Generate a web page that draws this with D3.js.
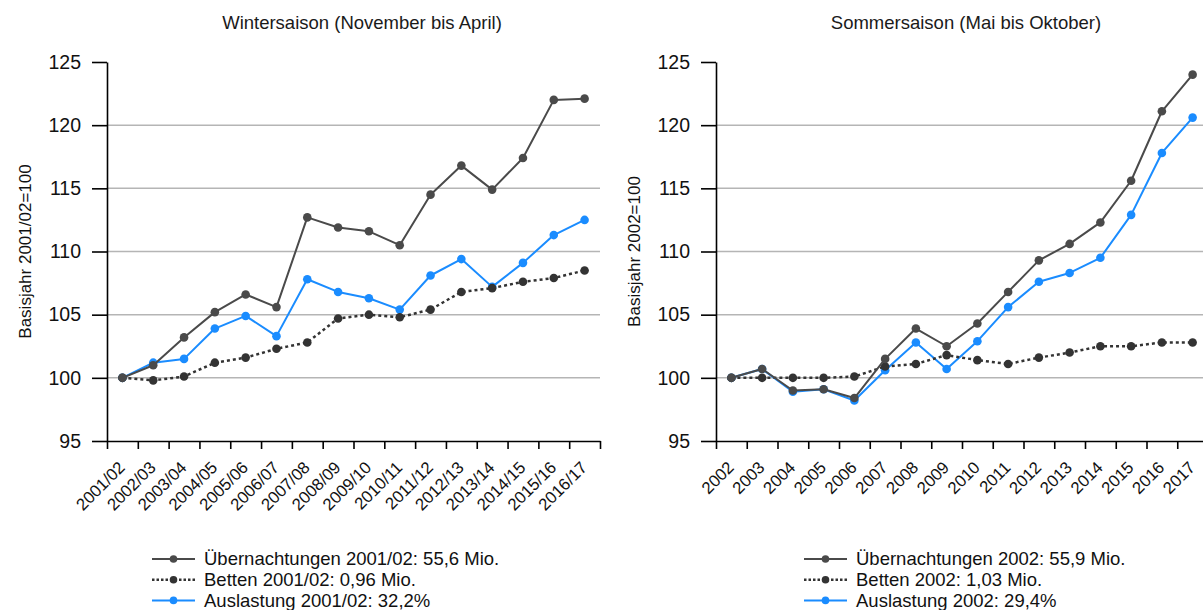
<!DOCTYPE html>
<html>
<head>
<meta charset="utf-8">
<script src="https://cdn.jsdelivr.net/npm/d3@7"></script>
<style>
  html, body { margin: 0; padding: 0; background: #fff; }
  svg { display: block; font-family: "Liberation Sans", Arial, sans-serif; }
</style>
</head>
<body>
<svg id="chart" width="1203" height="610"></svg>
<script>
// ---------- data ----------
const winterCategories = ["2001/02","2002/03","2003/04","2004/05","2005/06","2006/07","2007/08","2008/09",
  "2009/10","2010/11","2011/12","2012/13","2013/14","2014/15","2015/16","2016/17"];
const winterUebernachtungen = [100, 101.0, 103.2, 105.2, 106.6, 105.6, 112.7, 111.9, 111.6, 110.5, 114.5, 116.8, 114.9, 117.4, 122.0, 122.1];
const winterBetten          = [100, 99.8, 100.1, 101.2, 101.6, 102.3, 102.8, 104.7, 105.0, 104.8, 105.4, 106.8, 107.1, 107.6, 107.9, 108.5];
const winterAuslastung      = [100, 101.2, 101.5, 103.9, 104.9, 103.3, 107.8, 106.8, 106.3, 105.4, 108.1, 109.4, 107.2, 109.1, 111.3, 112.5];

const sommerCategories = ["2002","2003","2004","2005","2006","2007","2008","2009",
  "2010","2011","2012","2013","2014","2015","2016","2017"];
const sommerUebernachtungen = [100, 100.7, 99.0, 99.1, 98.4, 101.5, 103.9, 102.5, 104.3, 106.8, 109.3, 110.6, 112.3, 115.6, 121.1, 124.0];
const sommerBetten          = [100, 100.0, 100.0, 100.0, 100.1, 100.9, 101.1, 101.8, 101.4, 101.1, 101.6, 102.0, 102.5, 102.5, 102.8, 102.8];
const sommerAuslastung      = [100, 100.7, 98.9, 99.1, 98.2, 100.6, 102.8, 100.7, 102.9, 105.6, 107.6, 108.3, 109.5, 112.9, 117.8, 120.6];

const yTicks = [95, 100, 105, 110, 115, 120, 125];
const gridTicks = [100, 105, 110, 115, 120];

const winterTitle = "Wintersaison (November bis April)";
const sommerTitle = "Sommersaison (Mai bis Oktober)";
const winterYLabel = "Basisjahr 2001/02=100";
const sommerYLabel = "Basisjahr 2002=100";
const winterLegend = ["Übernachtungen 2001/02: 55,6 Mio.", "Betten 2001/02: 0,96 Mio.", "Auslastung 2001/02: 32,2%"];
const sommerLegend = ["Übernachtungen 2002: 55,9 Mio.", "Betten 2002: 1,03 Mio.", "Auslastung 2002: 29,4%"];

// ---------- styles ----------
const styles = {
  ueber:  { stroke: "#4a4a4a", fill: "#4a4a4a", dash: null, width: 2 },
  betten: { stroke: "#333333", fill: "#333333", dash: "3,3", width: 2.5 },
  ausl:   { stroke: "#1a8cff", fill: "#1a8cff", dash: null, width: 2 }
};

const svg = d3.select("#chart");

function drawPanel(cfg) {
  const g = svg.append("g");
  const x = d3.scaleBand().domain(cfg.categories).range([cfg.left, cfg.left + cfg.width]).padding(0);
  const xi = d3.scaleLinear().domain([0, cfg.categories.length]).range([cfg.left, cfg.left + cfg.width]);
  const y = d3.scaleLinear().domain([95, 125]).range([441, 62]);

  // title
  g.append("text").attr("x", cfg.titleX).attr("y", 29)
    .attr("text-anchor", "middle").attr("font-size", 18.5).attr("fill", "#1a1a1a")
    .text(cfg.title);

  // gridlines
  g.selectAll(".grid").data(gridTicks).enter().append("line")
    .attr("x1", cfg.left).attr("x2", cfg.left + cfg.width)
    .attr("y1", d => y(d)).attr("y2", d => y(d))
    .attr("stroke", "#b5b5b5").attr("stroke-width", 1.5);

  // y axis
  const yAxis = d3.axisLeft(y).tickValues(yTicks).tickSize(15).tickSizeOuter(0).tickPadding(11);
  const ya = g.append("g").attr("transform", `translate(${cfg.left},0)`).call(yAxis);
  ya.select(".domain").attr("stroke", "#000").attr("stroke-width", 1.6);
  ya.selectAll(".tick line").attr("stroke", "#000").attr("stroke-width", 1.6);
  ya.selectAll(".tick text").attr("font-size", 19.5).attr("font-family", "Liberation Sans, Arial, sans-serif").attr("fill", "#111");

  // x axis (ticks at band boundaries)
  const xAxis = d3.axisBottom(xi).tickValues(d3.range(0, cfg.categories.length + 1)).tickSize(8).tickSizeOuter(0).tickFormat("");
  const xa = g.append("g").attr("transform", `translate(0,${y(95)})`).call(xAxis);
  xa.select(".domain").attr("stroke", "#000").attr("stroke-width", 1.6);
  xa.selectAll(".tick line").attr("stroke", "#000").attr("stroke-width", 1.6);

  // x labels
  g.selectAll(".xl").data(cfg.categories).enter().append("text")
    .attr("transform", d => `translate(${x(d) + x.bandwidth() / 2 - 5},${y(95) + 19}) rotate(-45)`)
    .attr("text-anchor", "end").attr("dy", "0.72em").attr("font-size", 16.8).attr("fill", "#111")
    .text(d => d);

  // y axis title
  g.append("text")
    .attr("transform", `translate(${cfg.yTitleX},${(y(95) + y(125)) / 2}) rotate(-90)`)
    .attr("text-anchor", "middle").attr("font-size", 17).attr("fill", "#111")
    .text(cfg.yLabel);

  // series
  const series = [
    { vals: cfg.ausl, st: styles.ausl },
    { vals: cfg.betten, st: styles.betten },
    { vals: cfg.ueber, st: styles.ueber }
  ];
  const line = d3.line().x((d, i) => x(cfg.categories[i]) + x.bandwidth() / 2).y(d => y(d));
  series.forEach(s => {
    g.append("path").datum(s.vals).attr("d", line)
      .attr("fill", "none").attr("stroke", s.st.stroke).attr("stroke-width", s.st.width)
      .attr("stroke-dasharray", s.st.dash).attr("stroke-linejoin", "round");
    g.selectAll(null).data(s.vals).enter().append("circle")
      .attr("cx", (d, i) => x(cfg.categories[i]) + x.bandwidth() / 2)
      .attr("cy", d => y(d)).attr("r", 4.3).attr("fill", s.st.fill);
  });

  // legend
  const legendStyles = [styles.ueber, styles.betten, styles.ausl];
  const lg = g.append("g");
  cfg.legend.forEach((t, i) => {
    const yy = 559 + i * 20.7;
    const st = legendStyles[i];
    lg.append("line").attr("x1", cfg.legendX).attr("x2", cfg.legendX + 43)
      .attr("y1", yy).attr("y2", yy).attr("stroke", st.stroke).attr("stroke-width", st.width)
      .attr("stroke-dasharray", st.dash ? "2.5,2" : null);
    lg.append("circle").attr("cx", cfg.legendX + 21.5).attr("cy", yy).attr("r", 3.8).attr("fill", st.fill);
    lg.append("text").attr("x", cfg.legendX + 52).attr("y", yy).attr("dy", "0.35em")
      .attr("font-size", 18.5).attr("fill", "#111").text(t);
  });
}

drawPanel({
  categories: winterCategories, ueber: winterUebernachtungen, betten: winterBetten, ausl: winterAuslastung,
  left: 107, width: 493, title: winterTitle, titleX: 362, yLabel: winterYLabel, yTitleX: 31,
  legend: winterLegend, legendX: 152
});
drawPanel({
  categories: sommerCategories, ueber: sommerUebernachtungen, betten: sommerBetten, ausl: sommerAuslastung,
  left: 716, width: 492, title: sommerTitle, titleX: 966, yLabel: sommerYLabel, yTitleX: 640,
  legend: sommerLegend, legendX: 804
});
</script>
</body>
</html>
